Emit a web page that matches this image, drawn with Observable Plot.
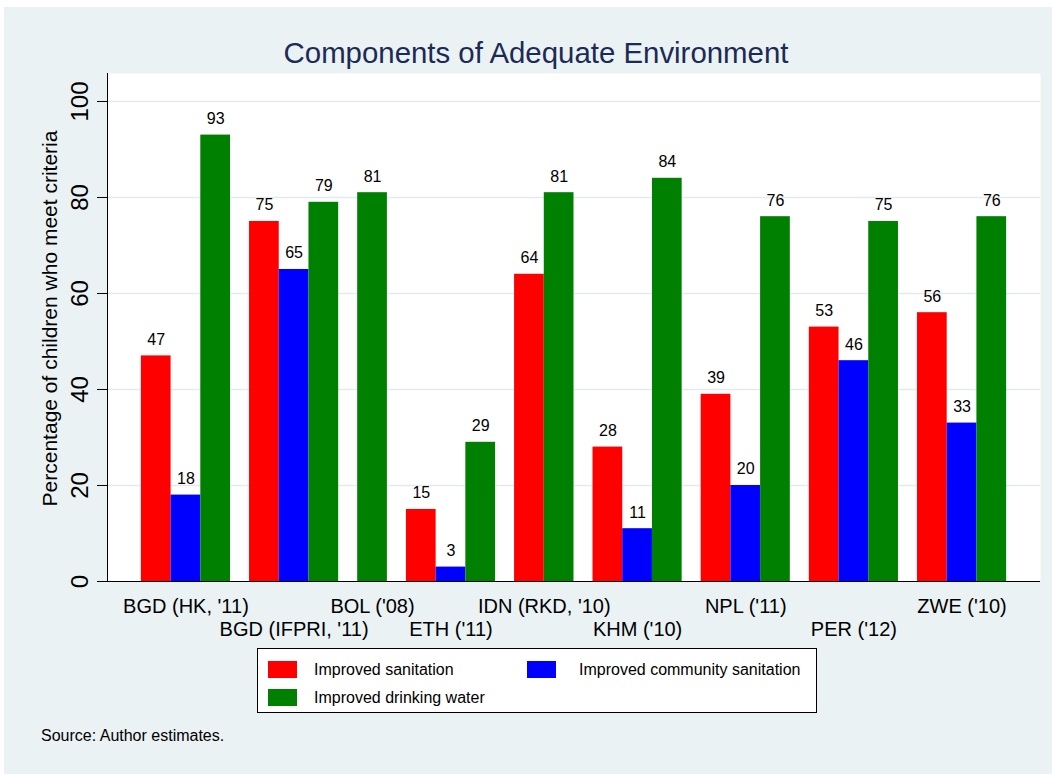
<!DOCTYPE html>
<html>
<head>
<meta charset="utf-8">
<script src="https://cdn.jsdelivr.net/npm/d3@7"></script>
<script src="https://cdn.jsdelivr.net/npm/@observablehq/plot@0.6"></script>
<style>
  body { margin: 0; background: #fff; }
  #chart { position: relative; width: 1052px; height: 774px; background: #fff;
           font-family: "Liberation Sans", Arial, sans-serif; color: #000; overflow: hidden; }
  #region { position: absolute; left: 4px; top: 7px; right: 0; bottom: 0; background: #eaf2f3; }
  #title { position: absolute; left: 0; width: 1072px; top: 38px; text-align: center;
           font-size: 29.4px; line-height: 29.4px; color: #1c2a56; white-space: nowrap; }
  #plot { position: absolute; left: 0; top: 0; }
  #legend { position: absolute; left: 257px; top: 648px; width: 560px; height: 65px;
            background: #fff; border: 1px solid #000; box-sizing: border-box; }
  .sw { position: absolute; width: 29px; height: 17px; }
  .lab { position: absolute; font-size: 16px; line-height: 16px; white-space: nowrap; }
  #caption { position: absolute; left: 41px; top: 728px; font-size: 16px; line-height: 16px; white-space: nowrap; }
</style>
</head>
<body>
<div id="chart">
  <div id="region"></div>
  <div id="title"></div>
  <div id="plot"></div>
  <div id="legend"></div>
  <div id="caption"></div>
</div>
<script>
// Survey rounds, in display order
const countries = ["BGD (HK, '11)", "BGD (IFPRI, '11)", "BOL ('08)", "ETH ('11)", "IDN (RKD, '10)",
                   "KHM ('10)", "NPL ('11)", "PER ('12)", "ZWE ('10)"];
// Percentage of children meeting each criterion (null = not measured)
const improvedSanitation  = [47, 75, null, 15, 64, 28, 39, 53, 56];
const communitySanitation = [18, 65, null, 3, null, 11, 20, 46, 33];
const drinkingWater       = [93, 79, 81, 29, 81, 84, 76, 75, 76];

const seriesLabels = ["Improved sanitation", "Improved community sanitation", "Improved drinking water"];
const seriesColors = ["#ff0000", "#0000ff", "#008000"];
const yTicks = [0, 20, 40, 60, 80, 100];

const titleText = "Components of Adequate Environment";
const yLabel = "Percentage of children who meet criteria";
const captionText = "Source: Author estimates.";

// Bars sit side by side within a round; missing measures leave no empty slot.
const BAR = 1, GROUP_GAP = 0.64, OUTER_GAP = 1.14;
const seriesValues = [improvedSanitation, communitySanitation, drinkingWater];
const bars = [];
const groups = [];
let cursor = OUTER_GAP;
countries.forEach((country, i) => {
  const start = cursor;
  seriesValues.forEach((values, s) => {
    const v = values[i];
    if (v == null) return;
    bars.push({country, series: seriesLabels[s], value: v, x1: cursor, x2: cursor + BAR});
    cursor += BAR;
  });
  groups.push({country, center: (start + cursor) / 2, row: i % 2});
  cursor += GROUP_GAP;
});
const xMax = cursor - GROUP_GAP + OUTER_GAP;

const chart = Plot.plot({
  width: 1052,
  height: 650,
  marginLeft: 107,
  marginRight: 12,
  marginTop: 73,
  marginBottom: 69,
  style: {background: "transparent", fontFamily: "'Liberation Sans', Arial, sans-serif", color: "#000", overflow: "visible"},
  x: {domain: [0, xMax], axis: null},
  y: {domain: [0, 105.83], axis: null},
  color: {domain: seriesLabels, range: seriesColors},
  marks: [
    Plot.frame({fill: "white", stroke: "none"}),
    Plot.ruleY(yTicks.filter(t => t > 0), {stroke: "#e3ebee", strokeWidth: 1.6}),
    Plot.rect(bars, {x1: "x1", x2: "x2", y1: 0, y2: "value", fill: "series"}),
    Plot.text(bars, {x: d => (d.x1 + d.x2) / 2, y: "value", text: d => String(d.value),
                     lineAnchor: "bottom", dy: -11, fontSize: 16, fill: "#000"}),
    Plot.axisY({ticks: yTicks, tickSize: 10, tickPadding: 9.5, tickRotate: -90, fontSize: 24, label: null}),
    Plot.ruleX([0], {stroke: "#000", strokeWidth: 1}),
    Plot.ruleY([0], {stroke: "#000", strokeWidth: 1}),
    Plot.text(groups.filter(g => g.row === 0), {x: "center", frameAnchor: "bottom", text: "country",
                     lineAnchor: "top", dy: 17, fontSize: 20, fill: "#000"}),
    Plot.text(groups.filter(g => g.row === 1), {x: "center", frameAnchor: "bottom", text: "country",
                     lineAnchor: "top", dy: 40, fontSize: 20, fill: "#000"}),
    Plot.text([yLabel], {frameAnchor: "left", rotate: -90, dx: -51, dy: -9, textAnchor: "middle",
                     lineAnchor: "bottom", fontSize: 21, letterSpacing: "0.5px", fill: "#000"})
  ]
});
document.getElementById("plot").appendChild(chart);

document.getElementById("title").textContent = titleText;
document.getElementById("caption").textContent = captionText;

// Legend: two columns, filled row by row
const legend = document.getElementById("legend");
const slots = [
  {sx: 10, tx: 56, y: 12},
  {sx: 269, tx: 321, y: 12},
  {sx: 10, tx: 56, y: 40}
];
seriesLabels.forEach((label, i) => {
  const s = slots[i];
  const sw = document.createElement("div");
  sw.className = "sw";
  sw.style.left = s.sx + "px";
  sw.style.top = s.y + "px";
  sw.style.background = seriesColors[i];
  legend.appendChild(sw);
  const t = document.createElement("div");
  t.className = "lab";
  t.style.left = s.tx + "px";
  t.style.top = (s.y + 1) + "px";
  t.textContent = label;
  legend.appendChild(t);
});
</script>
</body>
</html>
